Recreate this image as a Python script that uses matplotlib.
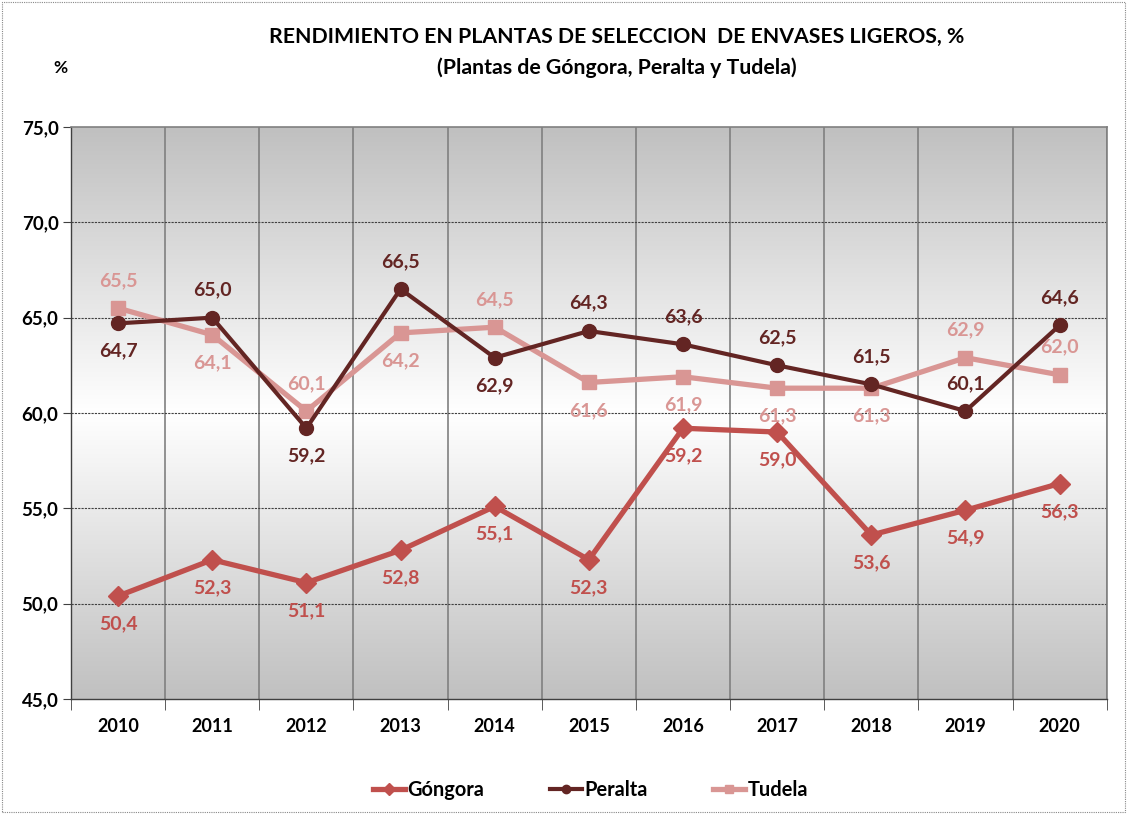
import numpy as np
import matplotlib
matplotlib.use("Agg")
import matplotlib.pyplot as plt
from matplotlib.colors import LinearSegmentedColormap
from matplotlib.patches import Rectangle

years = ["2010", "2011", "2012", "2013", "2014", "2015", "2016", "2017", "2018", "2019", "2020"]
gongora = [50.4, 52.3, 51.1, 52.8, 55.1, 52.3, 59.2, 59.0, 53.6, 54.9, 56.3]
peralta = [64.7, 65.0, 59.2, 66.5, 62.9, 64.3, 63.6, 62.5, 61.5, 60.1, 64.6]
tudela = [65.5, 64.1, 60.1, 64.2, 64.5, 61.6, 61.9, 61.3, 61.3, 62.9, 62.0]
yticks = [45, 50, 55, 60, 65, 70, 75]

# label placement: +1 above, -1 below
g_pos = [-1] * 11
p_pos = [-1, 1, -1, 1, -1, 1, 1, 1, 1, 1, 1]
t_pos = [1, -1, 1, -1, 1, -1, -1, -1, -1, 1, 1]

c_g = "#C0504D"
c_p = "#632523"
c_t = "#D99694"

plt.rcParams['font.family'] = ['Lato', 'DejaVu Sans']
plt.rcParams['font.weight'] = 'bold'

fig = plt.figure(figsize=(11.27, 8.14), dpi=100)
fig.patches.append(Rectangle((0.002, 0.002), 0.996, 0.996, transform=fig.transFigure,
                             fill=False, edgecolor="#888888", linewidth=0.8, linestyle=(0, (1, 1))))
ax = fig.add_axes([0.063, 0.1413, 0.919, 0.7027])

x = np.arange(len(years))
ax.set_xlim(-0.5, len(years) - 0.5)
ax.set_ylim(45, 75)

# gradient background
cmap = LinearSegmentedColormap.from_list("bg", ["#c0c0c0", "#ffffff", "#c0c0c0"])
grad = np.linspace(0, 1, 256).reshape(-1, 1)
ax.imshow(grad, extent=[0, 1, 0, 1], transform=ax.transAxes, aspect="auto",
          cmap=cmap, zorder=0)

# grid
for b in np.arange(-0.5, len(years), 1.0):
    ax.axvline(b, color="#808080", linewidth=1.2, zorder=1)
for yv in yticks[1:-1]:
    ax.axhline(yv, color="#404040", linewidth=0.8, linestyle=(0, (2, 1)), zorder=1)

ax.plot(x, gongora, color=c_g, linewidth=3.8, marker="D", markersize=10, label="Góngora", zorder=3)
ax.plot(x, peralta, color=c_p, linewidth=3.0, marker="o", markersize=10, label="Peralta", zorder=4)
ax.plot(x, tudela, color=c_t, linewidth=3.8, marker="s", markersize=10, label="Tudela", zorder=3)

def fmt(v):
    return f"{v:.1f}".replace(".", ",")

for vals, pos, col in [(gongora, g_pos, c_g), (peralta, p_pos, c_p), (tudela, t_pos, c_t)]:
    for xi, v, p in zip(x, vals, pos):
        ax.annotate(fmt(v), (xi, v), xytext=(0, 20 * p), textcoords="offset points",
                    ha="center", va="center", color=col, fontsize=14, fontweight="bold", zorder=5)

ax.set_yticks(yticks)
ax.set_yticklabels([fmt(v) for v in yticks], fontsize=13.5, fontweight="bold")
ax.set_xticks(x)
ax.set_xticklabels(years, fontsize=13, fontweight="bold")
ax.set_xticks(np.arange(-0.5, len(years), 1.0), minor=True)
ax.tick_params(axis="x", which="major", length=0, pad=14)
ax.tick_params(axis="x", which="minor", length=8, color="#404040", direction="out")
ax.tick_params(axis="y", length=6, color="#404040", direction="out", pad=3)

for s in ["top", "right"]:
    ax.spines[s].set_color("#808080")
    ax.spines[s].set_linewidth(1.2)
for s in ["left", "bottom"]:
    ax.spines[s].set_color("#404040")
    ax.spines[s].set_linewidth(1.0)

fig.text(0.547, 0.955, "RENDIMIENTO EN PLANTAS DE SELECCION  DE ENVASES LIGEROS, %",
         ha="center", va="center", fontsize=15.3, fontweight="bold")
fig.text(0.547, 0.917, "(Plantas de Góngora, Peralta y Tudela)",
         ha="center", va="center", fontsize=15.3, fontweight="bold")
fig.text(0.054, 0.916, "%", ha="center", va="center", fontsize=12.5, fontweight="bold")

leg = fig.legend(loc="center", bbox_to_anchor=(0.524, 0.029), ncol=3, frameon=False,
                 fontsize=14.4, handlelength=1.6, columnspacing=3.3, handletextpad=0.1,
                 markerscale=0.6)

fig.savefig("out.png", dpi=100)
